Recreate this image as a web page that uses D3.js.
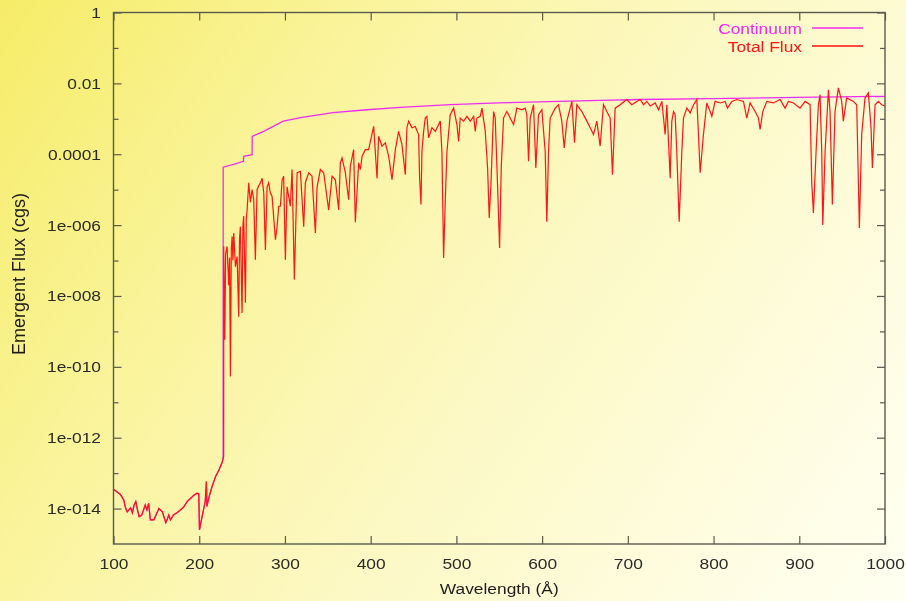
<!DOCTYPE html>
<html>
<head>
<meta charset="utf-8">
<script src="https://cdn.jsdelivr.net/npm/d3@7"></script>
<style>
  html, body { margin: 0; padding: 0; }
  svg { display: block; }
</style>
</head>
<body>
<svg id="chart" width="906" height="601"></svg>
<script>
// Emergent flux of a hot stellar atmosphere model, 100–1000 Å (log flux, cgs)

const xTickValues = [100, 200, 300, 400, 500, 600, 700, 800, 900, 1000];
const yTickValues = [1, 1e-2, 1e-4, 1e-6, 1e-8, 1e-10, 1e-12, 1e-14];
const yTickLabels = ["1", "0.01", "0.0001", "1e-006", "1e-008", "1e-010", "1e-012", "1e-014"];
const yMinorTickValues = [1e-1, 1e-3, 1e-5, 1e-7, 1e-9, 1e-11, 1e-13];

const seriesNames = ["Continuum", "Total Flux"];

// Short-ward of the He II edge (228 Å): flux [wavelength Å, erg/s/cm²/Å]
const fluxBelowEdge = [
  [100, 3.5e-14], [108, 2.5e-14], [112, 1.74e-14], [114, 1.05e-14], [116, 8.1e-15],
  [120, 1.05e-14], [122, 7.6e-15], [124, 1.26e-14], [126, 1.58e-14], [128, 9.1e-15],
  [130, 5.9e-15], [133, 6.6e-15], [137, 1.26e-14], [139, 9.1e-15], [141, 1.4e-14],
  [143, 4.8e-15], [147, 4.8e-15], [153, 1.0e-14], [157, 8.1e-15], [161, 4.0e-15],
  [162.5, 4.8e-15], [164.5, 6.6e-15], [166.5, 4.8e-15], [170, 6.6e-15], [174, 7.6e-15],
  [178, 9.1e-15], [182, 1.12e-14], [186, 1.58e-14], [190, 1.95e-14], [194, 2.4e-14],
  [197.5, 2.7e-14], [199.5, 2.6e-14], [200.3, 2.5e-15], [203, 5.4e-15], [207, 1.58e-14],
  [208.4, 5.8e-14], [209, 1.15e-14], [211, 1.95e-14], [215, 4.2e-14], [219, 7.9e-14],
  [223, 1.23e-13], [227, 2.1e-13], [228.5, 2.95e-13]
];

// Total flux long-ward of the edge, 228–430 Å
const fluxEdgeTo430 = [
  [228.6, 2.5e-7], [229.8, 5.8e-10], [230.8, 1.5e-7], [232.5, 2.5e-7], [234.4, 2.0e-8],
  [235.4, 1.2e-7], [236.4, 5.3e-11], [237.4, 2.0e-7], [238.4, 4.8e-7], [239.3, 1.0e-7],
  [240.3, 6.0e-7], [242.2, 6.7e-8], [244.2, 1.3e-7], [246.1, 2.6e-9], [247, 4.0e-7],
  [248, 9.0e-7], [250, 3.3e-9], [251, 1.0e-6], [251.9, 1.8e-6], [253.9, 6.4e-9],
  [254.9, 1.5e-6], [255.9, 2.7e-6], [257.7, 1.57e-5], [259.7, 4.4e-6], [261.7, 1.0e-5],
  [263.6, 5.2e-6], [265.5, 1.05e-7], [267.5, 1.0e-5], [269.5, 1.3e-5], [271.4, 1.57e-5],
  [273.4, 2.1e-5], [275.3, 8.0e-6], [277.2, 2.0e-7], [279.2, 1.2e-5], [281, 1.57e-5],
  [283, 8.0e-6], [285, 6.4e-6], [288.9, 3.9e-7], [290.8, 9.0e-7], [292.8, 3.4e-6],
  [294.7, 3.4e-6], [296.7, 1.9e-5], [298.5, 2.4e-5], [300.5, 1.05e-7], [302.5, 1.2e-5],
  [306.3, 3.4e-6], [308.3, 3.7e-5], [311, 2.9e-8], [314.2, 3.0e-5], [318, 3.3e-5],
  [320, 5.2e-6], [321.9, 9.0e-7], [323.8, 1.57e-5], [327.7, 3.0e-5], [331.6, 2.4e-5],
  [335.5, 6.0e-7], [337.5, 1.2e-5], [341.3, 3.7e-5], [345.2, 3.0e-5], [351, 2.7e-6],
  [355, 2.4e-5], [358.8, 1.9e-5], [362.7, 2.7e-6], [364.6, 5.7e-5], [366.6, 7.9e-5],
  [370.5, 3.0e-5], [374.3, 5.2e-6], [376.3, 4.6e-5], [380.1, 1.35e-4], [382.1, 1.2e-6],
  [386, 5.7e-5], [388, 3.7e-5], [390, 8.8e-5], [393.8, 1.35e-4], [397.6, 1.35e-4],
  [403.5, 6.1e-4], [407.4, 2.1e-5], [409.3, 3.2e-4], [413.2, 1.7e-4], [417.1, 2.1e-4],
  [421, 8.8e-5], [424.9, 1.9e-5], [428.8, 1.35e-4]
];

// Total flux, 430–712 Å
const flux430To712 = [
  [432.6, 4.4e-4], [436.5, 1.87e-4], [440.4, 2.65e-5], [442.3, 5.6e-4], [444.3, 8.6e-4],
  [448.2, 5.6e-4], [452, 6.1e-4], [455.9, 3.6e-4], [457.1, 2.1e-5], [458.7, 3.8e-6],
  [459.8, 1.2e-4], [461.8, 4.4e-4], [463.7, 1.05e-3], [465.6, 1.17e-3], [467.6, 2.9e-4],
  [471.5, 5.6e-4], [475.4, 4.4e-4], [481.2, 8.6e-4], [483.1, 1.2e-4], [485.1, 1.18e-7],
  [487, 4.7e-6], [489, 1.2e-4], [492.8, 1.3e-3], [496.7, 2.0e-3], [500.6, 6.9e-4],
  [502.6, 2.3e-4], [504.5, 1.05e-3], [508.4, 8.6e-4], [512.3, 1.17e-3], [516.2, 8.6e-4],
  [520.1, 1.17e-3], [522, 4.4e-4], [523.9, 1.05e-3], [527.8, 1.17e-3], [529.8, 2.0e-3],
  [533.7, 4.4e-4], [536.4, 4.1e-5], [538.3, 1.6e-6], [540.3, 1.4e-5], [543.4, 1.6e-3],
  [545.3, 1.05e-3], [548, 1.4e-5], [550.4, 2.25e-7], [552.3, 4.1e-5], [555, 1.05e-3],
  [558.9, 1.6e-3], [562.8, 1.05e-3], [566.7, 6.9e-4], [570.6, 2.0e-3], [576.4, 1.8e-3],
  [580.3, 2.0e-3], [582.2, 1.3e-3], [584.2, 6.3e-5], [586.1, 1.05e-3], [590, 2.5e-3],
  [592.7, 4.1e-5], [595.8, 1.3e-3], [599.7, 1.8e-3], [603.6, 1.2e-4], [605.5, 1.25e-6],
  [607.5, 1.2e-4], [609.4, 1.05e-3], [615.3, 2.0e-3], [619.1, 2.5e-3], [623, 8.6e-4],
  [625.8, 1.5e-4], [628.9, 8.6e-4], [634.7, 3.1e-3], [637.8, 2.1e-4], [640.5, 2.5e-3],
  [646.3, 1.6e-3], [652.2, 8.6e-4], [656.1, 5.6e-4], [660, 3.6e-4], [663.8, 8.6e-4],
  [667.7, 1.7e-4], [671.6, 2.5e-3], [675.5, 1.6e-3], [679.4, 1.05e-3], [682.1, 2.65e-5],
  [685.2, 2.0e-3], [691, 2.5e-3], [698.8, 3.5e-3], [704.6, 2.5e-3], [710.5, 3.1e-3]
];

// Total flux, 712–1000 Å
const flux712To1000 = [
  [714.4, 3.5e-3], [718.3, 2.5e-3], [722.2, 3.1e-3], [726.1, 2.3e-3], [731.9, 2.8e-3],
  [735.8, 1.8e-3], [739.7, 3.1e-3], [743.5, 3.6e-4], [745.5, 2.5e-3], [749.4, 2.1e-5],
  [751.3, 8.6e-4], [753.3, 1.6e-3], [755.2, 1.3e-3], [757.1, 1.2e-4], [759.9, 1.25e-6],
  [763, 1.2e-4], [764.9, 1.05e-3], [768.8, 2.0e-3], [772.7, 1.45e-3], [776.6, 2.5e-3],
  [780.5, 3.5e-3], [782.4, 3.6e-4], [784.4, 3.0e-5], [788.2, 3.6e-4], [792.1, 2.8e-3],
  [796, 1.6e-3], [798, 1.17e-3], [801.8, 3.1e-3], [807.7, 2.8e-3], [813.5, 3.1e-3],
  [816.2, 2.0e-3], [821.3, 3.1e-3], [827.1, 3.5e-3], [834.9, 3.1e-3], [838.8, 1.05e-3],
  [842.6, 2.8e-3], [848.5, 1.6e-3], [852.4, 1.05e-3], [854.3, 5.0e-4], [857.4, 1.6e-3],
  [862.1, 3.1e-3], [869.8, 2.8e-3], [877.6, 3.5e-3], [883.4, 2.0e-3], [887.3, 3.1e-3],
  [893.2, 2.8e-3], [900.9, 2.0e-3], [906.8, 3.1e-3], [912.6, 2.5e-3], [914.5, 1.7e-5],
  [916.5, 2.2e-6], [919.6, 1.2e-4], [922.3, 2.5e-3], [924.2, 4.8e-3], [926.2, 1.2e-4],
  [927.4, 1.0e-6], [930.1, 1.2e-4], [934, 6.6e-3], [935.9, 1.6e-3], [938.6, 3.8e-6],
  [941.7, 1.6e-3], [945.6, 7.5e-3], [949.5, 3.1e-3], [951.4, 8.6e-4], [955.3, 3.9e-3],
  [963.1, 3.1e-3], [967, 2.5e-3], [970.1, 8.3e-7], [972.8, 3.6e-4], [976.7, 3.9e-3],
  [980.6, 5.4e-3], [983.7, 5.6e-4], [985.3, 4.1e-5], [988.4, 2.5e-3], [992.3, 3.1e-3],
  [996.1, 2.5e-3], [1000, 2.3e-3]
];

// Continuum long-ward of the He II edge (below the edge it equals the total flux)
const continuumAboveEdge = [
  [227.9, 2.9e-13], [227.95, 4.3e-5], [240, 5.2e-5], [251.5, 6.3e-5], [252, 8.7e-5],
  [261.7, 9.7e-5], [261.8, 3.2e-4], [275.2, 4.4e-4], [298, 8.6e-4], [320, 1.1e-3],
  [356, 1.5e-3], [396, 1.8e-3], [434.6, 2.1e-3], [493, 2.5e-3], [550, 2.8e-3],
  [620, 3.1e-3], [714, 3.5e-3], [800, 3.7e-3], [900, 4.0e-3], [1000, 4.3e-3]
];

const totalFlux = fluxBelowEdge.concat(fluxEdgeTo430, flux430To712, flux712To1000);
const continuum = fluxBelowEdge.slice(0, -1).concat(continuumAboveEdge);

// ---- drawing ----
const W = 906, H = 601;
const plot = { left: 113.5, right: 885, top: 12.5, bottom: 544 };
const FONT = "'Liberation Sans', Arial, Helvetica, sans-serif";
const FS = 15.5;       // font size
const SX = 1.12;       // horizontal stretch of the lettering
const frameColor = "#5a5a50";
const colors = { "Continuum": "#f02cf0", "Total Flux": "#ff1414" };

const svg = d3.select("#chart");

// page background
const defs = svg.append("defs");
const grad = defs.append("linearGradient")
  .attr("id", "bg").attr("gradientUnits", "userSpaceOnUse")
  .attr("x1", 0).attr("y1", 0).attr("x2", W).attr("y2", H);
[[0, "#f6ec68"], [0.3, "#faf49e"], [0.55, "#fcf8c2"], [0.8, "#fefcde"], [1, "#fffff2"]]
  .forEach(([o, c]) => grad.append("stop").attr("offset", o).attr("stop-color", c));
const soft = defs.append("filter").attr("id", "soft")
  .attr("x", -0.02).attr("y", -0.02).attr("width", 1.04).attr("height", 1.04);
soft.append("feGaussianBlur").attr("stdDeviation", 0.45);

svg.append("rect").attr("width", W).attr("height", H).attr("fill", "url(#bg)");

const root = svg.append("g").attr("filter", "url(#soft)");

const x = d3.scaleLinear().domain([100, 1000]).range([plot.left, plot.right]);
const y = d3.scaleLog().domain([1e-15, 1]).range([plot.bottom, plot.top]);

// curves
const line = d3.line().x(d => x(d[0])).y(d => y(d[1]));
const clip = defs.append("clipPath").attr("id", "plotClip");
clip.append("rect").attr("x", plot.left).attr("y", plot.top)
  .attr("width", plot.right - plot.left).attr("height", plot.bottom - plot.top);

const curves = root.append("g").attr("clip-path", "url(#plotClip)");
curves.append("path").datum(continuum)
  .attr("d", line).attr("fill", "none")
  .attr("stroke", colors["Continuum"]).attr("stroke-width", 1.3);
curves.append("path").datum(totalFlux)
  .attr("d", line).attr("fill", "none")
  .attr("stroke", colors["Total Flux"]).attr("stroke-width", 1.2)
  .attr("stroke-linejoin", "miter");

// axes: ticks point inwards on all four sides
function styleAxis(g) {
  g.select(".domain").remove();
  g.selectAll(".tick line").attr("stroke", frameColor).attr("stroke-width", 1.2);
  g.selectAll("text").attr("fill", "#2a2a2a")
    .style("font-family", FONT).style("font-size", FS + "px");
}

const xAxisBottom = d3.axisBottom(x).tickValues(xTickValues).tickSize(-8)
  .tickPadding(14).tickFormat(d3.format("d"));
root.append("g").attr("transform", `translate(0,${plot.bottom})`)
  .call(xAxisBottom).call(styleAxis)
  .selectAll("text").attr("transform", `scale(${SX},1)`);

root.append("g").attr("transform", `translate(0,${plot.top})`)
  .call(d3.axisTop(x).tickValues(xTickValues).tickSize(-8).tickFormat(""))
  .call(styleAxis);

const yAxisLeft = d3.axisLeft(y).tickValues(yTickValues).tickSize(-8)
  .tickPadding(12.5).tickFormat((d, i) => yTickLabels[i]);
root.append("g").attr("transform", `translate(${plot.left},0)`)
  .call(yAxisLeft).call(styleAxis)
  .selectAll("text")
  .attr("x", -12.5 / SX)
  .attr("transform", `scale(${SX},1)`);

root.append("g").attr("transform", `translate(${plot.left},0)`)
  .call(d3.axisLeft(y).tickValues(yMinorTickValues).tickSize(-5).tickFormat(""))
  .call(styleAxis);
root.append("g").attr("transform", `translate(${plot.right},0)`)
  .call(d3.axisRight(y).tickValues(yTickValues).tickSize(-8).tickFormat(""))
  .call(styleAxis);
root.append("g").attr("transform", `translate(${plot.right},0)`)
  .call(d3.axisRight(y).tickValues(yMinorTickValues).tickSize(-5).tickFormat(""))
  .call(styleAxis);

// frame
root.append("rect")
  .attr("x", plot.left).attr("y", plot.top)
  .attr("width", plot.right - plot.left).attr("height", plot.bottom - plot.top)
  .attr("fill", "none").attr("stroke", frameColor).attr("stroke-width", 1.4);

// axis titles
root.append("text")
  .attr("transform", `translate(${(plot.left + plot.right) / 2},594) scale(${SX},1)`)
  .attr("text-anchor", "middle")
  .style("font-family", FONT).style("font-size", FS + "px").attr("fill", "#1e1e1e")
  .text("Wavelength (Å)");

root.append("text")
  .attr("transform", `translate(25,274) rotate(-90)`)
  .attr("text-anchor", "middle")
  .style("font-family", FONT).style("font-size", "18px").attr("fill", "#1e1e1e")
  .text("Emergent Flux (cgs)");

// legend
const legend = root.append("g");
seriesNames.forEach((name, i) => {
  const yy = 28 + i * 18;
  legend.append("text")
    .attr("transform", `translate(802,${yy + 5.5}) scale(${SX},1)`)
    .attr("text-anchor", "end")
    .style("font-family", FONT).style("font-size", FS + "px")
    .attr("fill", colors[name])
    .text(name);
  legend.append("line")
    .attr("x1", 812).attr("x2", 863).attr("y1", yy).attr("y2", yy)
    .attr("stroke", colors[name]).attr("stroke-width", 1.3);
});
</script>
</body>
</html>
